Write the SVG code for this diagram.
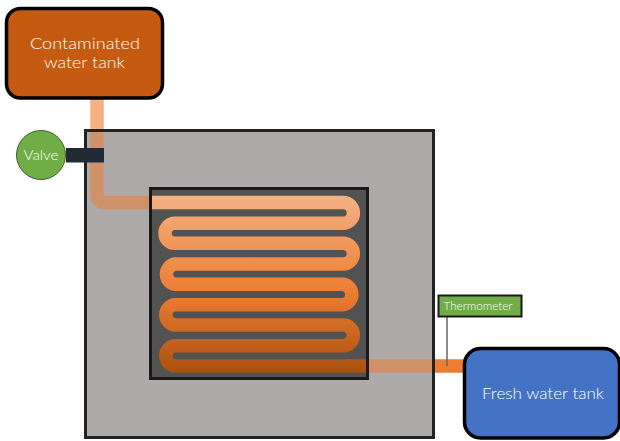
<svg xmlns="http://www.w3.org/2000/svg" width="620" height="441" viewBox="0 0 620 441">
<style>
text{font-family:"Lato","Open Sans","Liberation Sans",sans-serif;font-weight:300;fill:#fff;text-anchor:middle}
.tank{stroke:#000;stroke-width:3.5}
.pipe{fill:none;stroke-width:13.500}
.soft{stroke:#F4B183}
.mix{stroke:#CF9268}
</style>
<defs>
<linearGradient id="coil" gradientUnits="userSpaceOnUse" x1="0" y1="196" x2="0" y2="373">
<stop offset="0" stop-color="#F4B183"/>
<stop offset="0.55" stop-color="#ED7D31"/>
<stop offset="1" stop-color="#A9500F"/>
</linearGradient>
</defs>
<g id="connectors">
<path class="pipe soft" d="M97 98V131"/>
</g>
<g id="chamber">
<rect x="85.500" y="130.500" width="348" height="307" fill="#AEAAAA" stroke="#222" stroke-width="3"/>
</g>
<g id="connectors-inner">
<path class="pipe mix" d="M97 132V195.500a7 7 0 0 0 7 7H152"/>
<path class="pipe mix" d="M366 366H432"/>
<path class="pipe" stroke="#ED7D31" d="M435 366H465"/>
<rect x="66" y="148" width="38" height="14.500" fill="#222A35"/>
<path d="M447 316V366" fill="none" stroke="#666" stroke-width="1.500"/>
</g>
<g id="exchanger">
<rect x="150.500" y="188.500" width="217" height="190" fill="#525252" stroke="#1A1A1A" stroke-width="3"/>
<path class="pipe" stroke="url(#coil)" d="M152 202.500H343a10.400 10.400 0 0 1 0 20.800H175a10 10 0 0 0 0 20H343a10.300 10.300 0 0 1 0 20.700H175a10.300 10.300 0 0 0 0 20.300H343a10.300 10.300 0 0 1 0 20.400H175a10.200 10.200 0 0 0 0 20.300H343a10.300 10.300 0 0 1 0 20.700H175a10.200 10.200 0 0 0 0 20.300H366"/>
</g>
<g id="contaminated-tank">
<rect class="tank" x="6.500" y="8.500" width="156" height="89.500" rx="14" fill="#C55A11"/>
<text x="85" y="49" font-size="16" textLength="110" lengthAdjust="spacingAndGlyphs">Contaminated</text>
<text x="84.500" y="68" font-size="16" textLength="81" lengthAdjust="spacingAndGlyphs">water tank</text>
</g>
<g id="valve">
<circle cx="41" cy="155" r="24.500" fill="#70AD47" stroke="#3F5F2A" stroke-width="1"/>
<text x="41" y="160" font-size="14" textLength="35" lengthAdjust="spacingAndGlyphs">Valve</text>
</g>
<g id="thermometer">
<rect x="438.500" y="295.500" width="83" height="21" fill="#70AD47" stroke="#1A1A1A" stroke-width="2"/>
<text x="478" y="309.500" font-size="11" textLength="69" lengthAdjust="spacingAndGlyphs">Thermometer</text>
</g>
<g id="fresh-tank">
<rect class="tank" x="464.500" y="348.500" width="155" height="89.500" rx="16" fill="#4472C4"/>
<text x="543" y="398.500" font-size="16" textLength="122" lengthAdjust="spacingAndGlyphs">Fresh water tank</text>
</g>
</svg>
